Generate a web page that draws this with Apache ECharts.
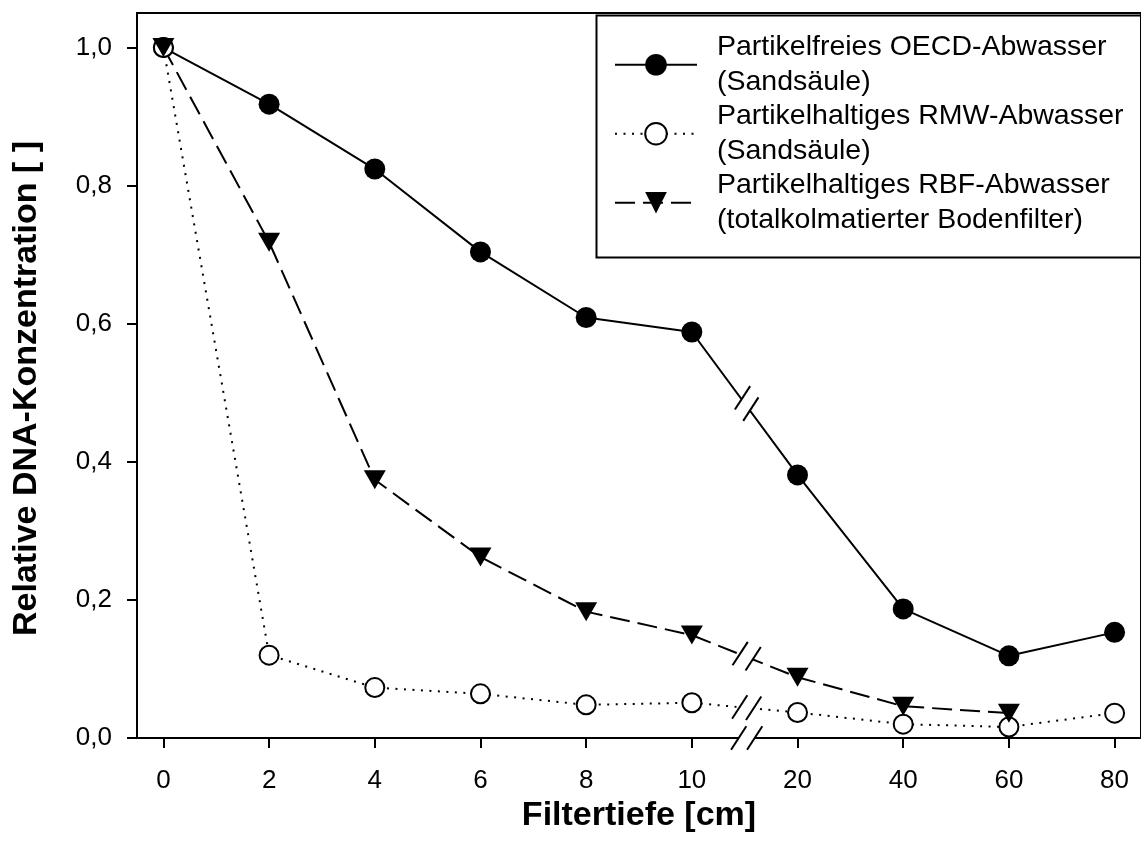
<!DOCTYPE html>
<html>
<head>
<meta charset="utf-8">
<script src="https://cdn.jsdelivr.net/npm/echarts@6/dist/echarts.min.js"></script>
<style>
  html, body { margin: 0; padding: 0; background: #fff; }
  #chart { width: 1141px; height: 858px; }
</style>
</head>
<body>
<div id="chart"></div>
<script>
// Filter depths (cm) shown as equally spaced positions on the x axis
const depthLabels = ['0', '2', '4', '6', '8', '10', '20', '40', '60', '80'];
const yTicks = [0, 0.2, 0.4, 0.6, 0.8, 1.0];

// Relative DNA concentration per depth
const oecd = [1.0, 0.918, 0.824, 0.704, 0.609, 0.588, 0.381, 0.187, 0.119, 0.153];
const rmw  = [1.0, 0.120, 0.073, 0.064, 0.048, 0.051, 0.037, 0.020, 0.016, 0.036];
const rbf  = [1.0, 0.718, 0.374, 0.262, 0.183, 0.149, 0.088, 0.046, 0.036];

const seriesNames = [
  'Partikelfreies OECD-Abwasser\n(Sandsäule)',
  'Partikelhaltiges RMW-Abwasser\n(Sandsäule)',
  'Partikelhaltiges RBF-Abwasser\n(totalkolmatierter Bodenfilter)'
];

// the scale is broken between 10 cm and 20 cm
const breakAfter = 5;

const FONT = "'Liberation Sans', Arial, sans-serif";
const LEGEND_LH = 34.5;

const idx = depthLabels.map((_, i) => i);
const toPairs = arr => arr.map((v, i) => [i, v]);

// "//" marks drawn on each line and on the x axis at the scale break
const breakLines = [oecd, rmw, rbf, null];
function renderBreak(params, api) {
  const line = breakLines[params.dataIndex];
  const a = api.coord([breakAfter, line ? line[breakAfter] : 0]);
  const b = api.coord([breakAfter + 1, line ? line[breakAfter + 1] : 0]);
  const mx = (a[0] + b[0]) / 2 + 2, my = (a[1] + b[1]) / 2;
  const len = Math.hypot(b[0] - a[0], b[1] - a[1]);
  const ux = (b[0] - a[0]) / len, uy = (b[1] - a[1]) / len;
  const s = line ? 7 : 8;
  const c1 = [mx - ux * s, my - uy * s];
  const c2 = [mx + ux * s, my + uy * s];
  const ang = 57 * Math.PI / 180, h = 14;
  const dx = Math.cos(ang) * h, dy = Math.sin(ang) * h;
  const slash = c => ({
    type: 'line',
    shape: { x1: c[0] - dx, y1: c[1] + dy, x2: c[0] + dx, y2: c[1] - dy },
    style: { stroke: '#000', lineWidth: 2 }
  });
  return {
    type: 'group',
    children: [
      { type: 'line', shape: { x1: c1[0], y1: c1[1], x2: c2[0], y2: c2[1] },
        style: { stroke: '#fff', lineWidth: 6 } },
      slash(c1), slash(c2)
    ]
  };
}

const chart = echarts.init(document.getElementById('chart'), null, { renderer: 'canvas' });

chart.setOption({
  animation: false,
  backgroundColor: '#fff',
  textStyle: { fontFamily: FONT, color: '#000' },
  grid: {
    left: 137, top: 13, width: 1008, height: 725,
    show: true, borderColor: '#000', borderWidth: 2, backgroundColor: 'transparent'
  },
  xAxis: {
    type: 'value', min: -0.25, max: 9.25,
    axisLine: { show: true, onZero: false, lineStyle: { color: '#000', width: 2 } },
    axisTick: { show: true, customValues: idx, length: 10, lineStyle: { color: '#000', width: 2 } },
    axisLabel: {
      customValues: idx, formatter: v => depthLabels[Math.round(v)],
      fontSize: 26, fontFamily: FONT, color: '#000', margin: 30
    },
    splitLine: { show: false },
    name: 'Filtertiefe [cm]', nameLocation: 'middle', nameGap: 60,
    nameTextStyle: { fontSize: 34, fontWeight: 'bold', fontFamily: FONT, color: '#000' }
  },
  yAxis: {
    type: 'value', min: 0, max: 1.05, interval: 0.2,
    axisLine: { show: true, onZero: false, lineStyle: { color: '#000', width: 2 } },
    axisTick: { show: true, customValues: yTicks, length: 10, lineStyle: { color: '#000', width: 2 } },
    axisLabel: {
      customValues: yTicks, formatter: v => v.toFixed(1).replace('.', ','),
      fontSize: 26, fontFamily: FONT, color: '#000', margin: 25
    },
    splitLine: { show: false },
    name: 'Relative DNA-Konzentration [ ]', nameLocation: 'middle', nameGap: 93,
    nameTextStyle: {
      fontSize: 34, fontWeight: 'bold', fontFamily: FONT, color: '#000',
      padding: [0, 26, 0, 0]
    }
  },
  legend: {
    orient: 'vertical', left: 614, top: 13, padding: 0,
    data: seriesNames, selectedMode: false,
    itemWidth: 82, itemHeight: 27, itemGap: -LEGEND_LH,
    textStyle: {
      fontSize: 28.5, fontFamily: FONT, color: '#000',
      lineHeight: LEGEND_LH, padding: [LEGEND_LH, 0, 0, 15]
    }
  },
  graphic: [{
    type: 'rect', left: 594, top: 13, z: 10, silent: true,
    shape: { width: 560, height: 242 },
    style: { fill: 'none', stroke: '#000', lineWidth: 2 }
  }],
  series: [
    {
      name: seriesNames[0], type: 'line', data: toPairs(oecd),
      symbol: 'circle', symbolSize: 21,
      lineStyle: { color: '#000', width: 2, type: 'solid' },
      itemStyle: { color: '#000', borderColor: '#000', borderWidth: 0 }
    },
    {
      name: seriesNames[1], type: 'line', data: toPairs(rmw),
      symbol: 'circle', symbolSize: 19,
      lineStyle: { color: '#000', width: 2, type: [2, 6.5] },
      itemStyle: { color: '#fff', borderColor: '#000', borderWidth: 2 }
    },
    {
      name: seriesNames[2], type: 'line', data: toPairs(rbf),
      symbol: 'triangle', symbolSize: [22, 19], symbolRotate: 180,
      lineStyle: { color: '#000', width: 2, type: [20, 8] },
      itemStyle: { color: '#000', borderColor: '#000', borderWidth: 0 }
    },
    {
      type: 'custom', silent: true, z: 5,
      data: breakLines.map(() => [breakAfter + 0.5, 0]),
      renderItem: renderBreak
    }
  ]
});
</script>
</body>
</html>
